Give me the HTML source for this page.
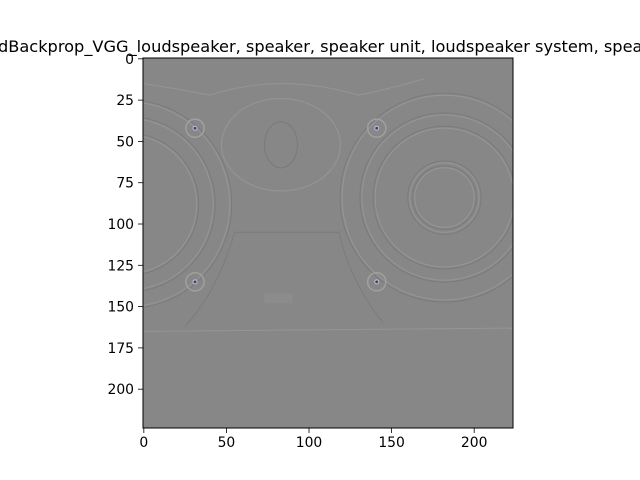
<!DOCTYPE html>
<html><head><meta charset="utf-8"><style>
body{margin:0;background:#fff;width:640px;height:480px;overflow:hidden}
svg{display:block;font-family:"DejaVu Sans","Liberation Sans",sans-serif}
</style></head><body>
<svg id="c" width="640" height="480" viewBox="0 0 640 480">
<defs><clipPath id="ax"><rect x="143" y="58" width="370" height="370"/></clipPath></defs>
<text x="341" y="52" font-size="16.2" text-anchor="middle" fill="#000">GuidedBackprop_VGG_loudspeaker, speaker, speaker unit, loudspeaker system, speaker system</text>
<rect x="143" y="58" width="370" height="370" fill="#878787"/>
<g id="img" clip-path="url(#ax)" fill="none"></g>
<rect x="143" y="58" width="370" height="370" fill="none" stroke="#000" stroke-width="1"/>
<g id="ticks"></g>
</svg>
<script>
const xTicks=[0,50,100,150,200];
const yTicks=[0,25,50,75,100,125,150,175,200];
const imgSize=224;
const speakers=[[-10,88,62],[-10,88,52],[-10,88,42],[182,84,62],[182,84,50],[182,84,42],[182,84,21],[182,84,18]];
const screws=[[31,42],[141,42],[31,135],[141,135]];
const oval=[83,52,36,28];
const X0=143,Y0=58,S=370/imgSize;
const px=v=>X0+(v+0.5)*S, py=v=>Y0+(v+0.5)*S;
const ns="http://www.w3.org/2000/svg";
const g=document.getElementById('img'), t=document.getElementById('ticks');
function mk(tag,at,parent){const e=document.createElementNS(ns,tag);for(const k in at)e.setAttribute(k,at[k]);parent.appendChild(e);return e;}
speakers.forEach(s=>{const e=mk('circle',{cx:px(s[0]),cy:py(s[1]),r:s[2]*S,stroke:'#959595','stroke-width':1.1},g);

});
speakers.forEach(s=>{mk('circle',{cx:px(s[0]),cy:py(s[1]),r:s[2]*S+2,stroke:'#7a7a7a','stroke-width':0.9},g);});
screws.forEach(s=>{const e=mk('circle',{cx:px(s[0]),cy:py(s[1]),r:5.5*S,stroke:'#a0a0a0','stroke-width':1.5},g);


mk('circle',{cx:px(s[0]),cy:py(s[1]),r:2,fill:'#4a3f6a',stroke:'#c8c0d8','stroke-width':1},g);});
const ov=mk('ellipse',{cx:px(oval[0]),cy:py(oval[1]),rx:oval[2]*S,ry:oval[3]*S,stroke:'#959595','stroke-width':1.1},g);


mk('ellipse',{cx:px(oval[0]),cy:py(oval[1]),rx:10*S,ry:14*S,stroke:'#7a7a7a','stroke-width':1},g);
mk('path',{d:`M${px(0)} ${py(15)} Q${px(20)} ${py(18)} ${px(40)} ${py(22)} Q${px(83)} ${py(8)} ${px(130)} ${py(22)} Q${px(150)} ${py(18)} ${px(170)} ${py(12)}`,stroke:'#959595','stroke-width':1},g);
mk('path',{d:`M${px(0)} ${py(165)} L${px(224)} ${py(163)}`,stroke:'#959595','stroke-width':1},g);
mk('path',{d:`M${px(55)} ${py(105)} L${px(118)} ${py(105)} Q${px(125)} ${py(135)} ${px(145)} ${py(160)}`,stroke:'#7c7c7c','stroke-width':1},g);
mk('path',{d:`M${px(55)} ${py(105)} Q${px(45)} ${py(140)} ${px(25)} ${py(162)}`,stroke:'#7c7c7c','stroke-width':1},g);
mk('rect',{x:px(73),y:py(142),width:28,height:10,fill:'#8c8c8c'},g);
xTicks.forEach(v=>{const x=px(v);
mk('line',{x1:x,y1:428,x2:x,y2:433,stroke:'#000','stroke-width':0.8},t);
const e=mk('text',{x:x,y:447,'font-size':13.9,'text-anchor':'middle'},t);e.textContent=v;

});
yTicks.forEach(v=>{const y=py(v);
mk('line',{x1:138,y1:y,x2:143,y2:y,stroke:'#000','stroke-width':0.8},t);
const e=mk('text',{x:134,y:y+5,'font-size':13.9,'text-anchor':'end'},t);e.textContent=v;

});
</script>
</body></html>
